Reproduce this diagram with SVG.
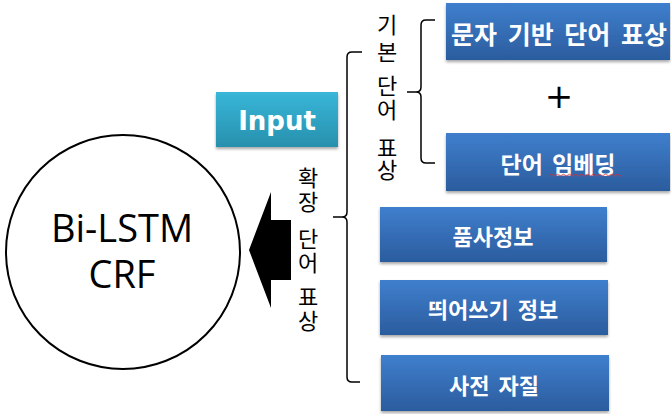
<svg xmlns="http://www.w3.org/2000/svg" width="671" height="414" viewBox="0 0 671 414">
<style>
.lbl{font-family:"Noto Sans CJK KR","Noto Sans",sans-serif;font-weight:bold;fill:#fff;text-anchor:middle}
.vt{font-family:"Noto Sans CJK KR",sans-serif;font-size:22px;fill:#000;writing-mode:vertical-rl;text-orientation:upright}
.br{fill:none;stroke:#000;stroke-width:1.5}
</style>
<defs>
<linearGradient id="blue" x1="0" y1="0" x2="0" y2="1">
<stop offset="0" stop-color="#3f7fcd"/>
<stop offset="1" stop-color="#2b5c9e"/>
</linearGradient>
<linearGradient id="teal" x1="0" y1="0" x2="0" y2="1">
<stop offset="0" stop-color="#38b6d8"/>
<stop offset="1" stop-color="#2890ad"/>
</linearGradient>
<filter id="sh" x="-5%" y="-10%" width="110%" height="130%">
<feDropShadow dx="0" dy="2" stdDeviation="1.5" flood-color="#000" flood-opacity="0.35"/>
</filter>
</defs>

<g id="model">
<circle cx="123" cy="252" r="117" fill="#fff" stroke="#000" stroke-width="2"/>
<text font-family="Open Sans,sans-serif" font-size="38" text-anchor="middle"><tspan x="122" y="242">Bi-LSTM</tspan><tspan x="122" y="288">CRF</tspan></text>
</g>

<g id="connectors">
<polygon points="249,250 271,192 271,220 291,220 291,280 271,280 271,308" fill="#000"/>
<path class="br" d="M362,52 L352,52 Q347,52 347,57 L347,212 Q347,217 342,217 L333,217 M342,217 Q347,217 347,222 L347,377 Q347,382 352,382 L360,382"/>
<path class="br" d="M435,20 L426,20 Q421,20 421,25 L421,87 Q421,92 416,92 L407,92 M416,92 Q421,92 421,97 L421,158 Q421,163 426,163 L435,163"/>
</g>

<g id="input">
<rect x="216" y="92" width="122" height="55" fill="url(#teal)" filter="url(#sh)"/>
<text x="277" y="130" font-family="DejaVu Sans,sans-serif" font-weight="bold" font-size="26" fill="#fff" text-anchor="middle">Input</text>
</g>

<g id="label-ext">
<text class="vt" letter-spacing="2"><tspan x="308" y="167">확장</tspan><tspan x="308" y="228">단어</tspan><tspan x="308" y="286">표상</tspan></text>
</g>

<g id="label-base">
<text class="vt" letter-spacing="5"><tspan x="387" y="14">기본</tspan><tspan x="387" y="75" letter-spacing="2">단어</tspan><tspan x="387" y="137" letter-spacing="0">표상</tspan></text>
</g>

<g id="char-rep">
<rect x="446" y="3" width="224" height="57" fill="url(#blue)" filter="url(#sh)"/>
<text class="lbl" x="559" y="44" font-size="25" word-spacing="5">문자 기반 단어 표상</text>
</g>

<g id="plus">
<text x="559" y="108" font-family="DejaVu Sans,sans-serif" font-size="34" text-anchor="middle" fill="#000">+</text>
</g>

<g id="word-emb">
<rect x="446" y="133" width="224" height="58" fill="url(#blue)" filter="url(#sh)"/>
<text class="lbl" x="558" y="173" font-size="23" word-spacing="4">단어 임베딩</text>
<path d="M550,175 q1.5,-1.5 3,0 t3,0 t3,0 t3,0 t3,0 t3,0 t3,0 t3,0 t3,0 t3,0 t3,0 t3,0 t3,0 t3,0 t3,0 t3,0 t3,0 t3,0 t3,0 t3,0 t3,0 t3,0 t3,0 t3,0" fill="none" stroke="#e03030" stroke-width="0.8"/>
</g>

<g id="pos">
<rect x="380" y="207" width="227" height="55" fill="url(#blue)" filter="url(#sh)"/>
<text class="lbl" x="493" y="245" font-size="22">품사정보</text>
</g>

<g id="spacing">
<rect x="380" y="280" width="228" height="55" fill="url(#blue)" filter="url(#sh)"/>
<text class="lbl" x="493" y="318" font-size="22" word-spacing="4">띄어쓰기 정보</text>
</g>

<g id="dict">
<rect x="381" y="355" width="228" height="56" fill="url(#blue)" filter="url(#sh)"/>
<text class="lbl" x="494" y="394" font-size="22" word-spacing="4">사전 자질</text>
</g>
</svg>
